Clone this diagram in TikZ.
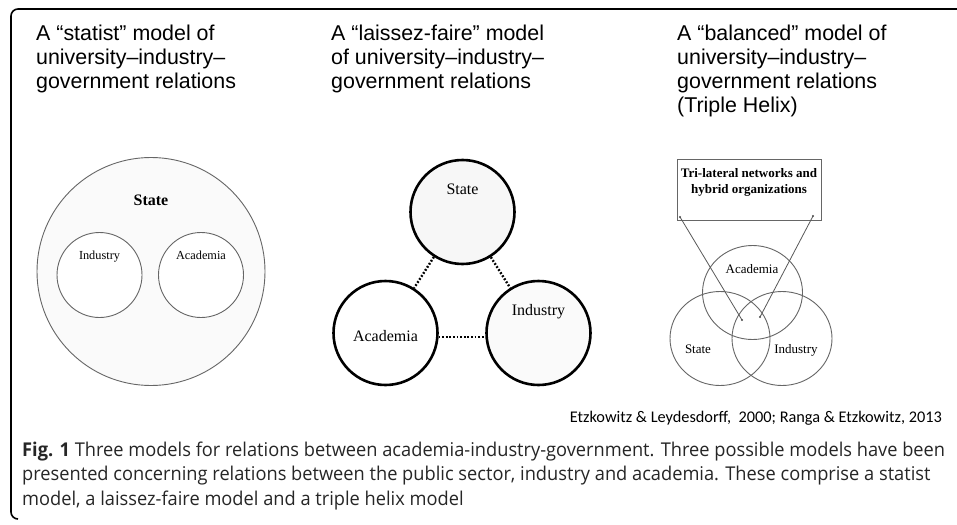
\documentclass[tikz,border=0pt]{standalone}
\usepackage{fontspec}
\setmainfont{Liberation Sans}
\newfontfamily\tms{Liberation Serif}
\newfontfamily\capfont[FakeStretch=0.96]{Open Sans}
\newfontfamily\citefont{Carlito}
\usetikzlibrary{shapes.geometric}
\tikzset{
  heading/.style={anchor=base west, inner sep=0, font=\fontsize{21.4}{24.1}\selectfont},
  thinring/.style={circle, draw=black!60, line width=0.9pt, inner sep=0},
  boldring/.style={circle, draw=black, line width=2.6pt, inner sep=0, minimum size=104pt},
  helixring/.style={ellipse, draw=black!60, line width=0.9pt, inner sep=0, minimum width=100pt, minimum height=94pt},
  lbl/.style={anchor=base, inner sep=0},
  dotline/.style={line width=2.4pt, dash pattern=on 1.8pt off 1.8pt},
  helixline/.style={draw=black!65, line width=0.8pt},
  enddot/.style={fill=black!70, circle, inner sep=0, minimum size=2.2pt},
}
\begin{document}
\begin{tikzpicture}[x=1pt,y=-1pt]
\useasboundingbox[fill=white] (0,0) rectangle (957,524);
% frame
\draw[line width=1.6pt, rounded corners=7pt] (957,9) -- (11,9) -- (11,519) -- (18,519);

% headings
\node[heading] (h1) at (36,40.7) {\begin{tabular}[t]{@{}l@{}}A “statist” model of\\ university–industry–\\ government relations\end{tabular}};
\node[heading] (h2) at (331,40.7) {\begin{tabular}[t]{@{}l@{}}A “laissez-faire” model\\ of university–industry–\\ government relations\end{tabular}};
\node[heading] (h3) at (677,40.7) {\begin{tabular}[t]{@{}l@{}}A “balanced” model of\\ university–industry–\\ government relations\\ (Triple Helix)\end{tabular}};

% statist model
\node[thinring, minimum size=228pt, fill=black!2] (lstate) at (151,271.5) {};
\node[thinring, minimum size=85pt, fill=white] (lind) at (99.5,275) {};
\node[thinring, minimum size=85pt, fill=white] (lacad) at (201,275) {};
\node[lbl, font=\tms\bfseries\fontsize{16}{18}\selectfont] (lstatet) at (151,205) {State};
\node[lbl, font=\tms\fontsize{12.3}{14}\selectfont] (lindt) at (99.5,259) {Industry};
\node[lbl, font=\tms\fontsize{12.3}{14}\selectfont] (lacadt) at (201,259) {Academia};

% laissez-faire model
\node[boldring, fill=black!3] (mstate) at (462.5,212) {};
\node[boldring, fill=white] (macad) at (385.5,333) {};
\node[boldring, fill=black!2] (mind) at (538.5,333) {};
\draw[dotline] (mstate) -- (macad);
\draw[dotline] (mstate) -- (mind);
\draw[dotline] (macad.-4) -- (mind.184);
\node[lbl, font=\tms\fontsize{16}{18}\selectfont] (mstatet) at (462.5,194) {State};
\node[lbl, font=\tms\fontsize{16}{18}\selectfont] (macadt) at (385.5,341) {Academia};
\node[lbl, font=\tms\fontsize{16}{18}\selectfont] (mindt) at (538.5,315) {Industry};

% triple helix model
\node[draw=black!60, line width=0.9pt, minimum width=144pt, minimum height=61pt, inner sep=0] (box) at (749,189.5) {};
\node[lbl, font=\tms\bfseries\fontsize{13}{15.6}\selectfont] (boxt) at (749,177.7) {\begin{tabular}[t]{@{}c@{}}Tri-lateral networks and\\ hybrid organizations\end{tabular}};
\node[helixring] (racad) at (752.5,292.5) {};
\node[helixring] (rstate) at (720,338.5) {};
\node[helixring] (rind) at (782,338.5) {};
\node[lbl, font=\tms\fontsize{13}{15}\selectfont] (racadt) at (752,273) {Academia};
\node[lbl, font=\tms\fontsize{13}{15}\selectfont] (rstatet) at (698,353) {State};
\node[lbl, font=\tms\fontsize{13}{15}\selectfont] (rindt) at (796,353) {Industry};
\coordinate (p1) at (680,217);
\coordinate (p2) at (813,216);
\coordinate (q1) at (742,320);
\coordinate (q2) at (760,317);
\draw[helixline] (p1) -- (q1);
\draw[helixline] (p2) -- (q2);
\foreach \p in {p1,p2,q1,q2} \node[enddot] at (\p) {};

% citation
\node[anchor=base east, inner sep=0, font=\citefont\fontsize{16.3}{18}\selectfont] (cite) at (942,422) {Etzkowitz \& Leydesdorff,~~2000; Ranga \& Etzkowitz, 2013};

% caption
\node[anchor=base west, inner sep=0, font=\capfont\fontsize{19}{24.2}\selectfont, text=black!85] (cap) at (22,456.7) {\begin{tabular}[t]{@{}l@{}}\textbf{Fig. 1} Three models for relations between academia-industry-government. Three possible models have been\\ presented concerning relations between the public sector, industry and academia. These comprise a statist\\ model, a laissez-faire model and a triple helix model\end{tabular}};
\end{tikzpicture}
\end{document}
